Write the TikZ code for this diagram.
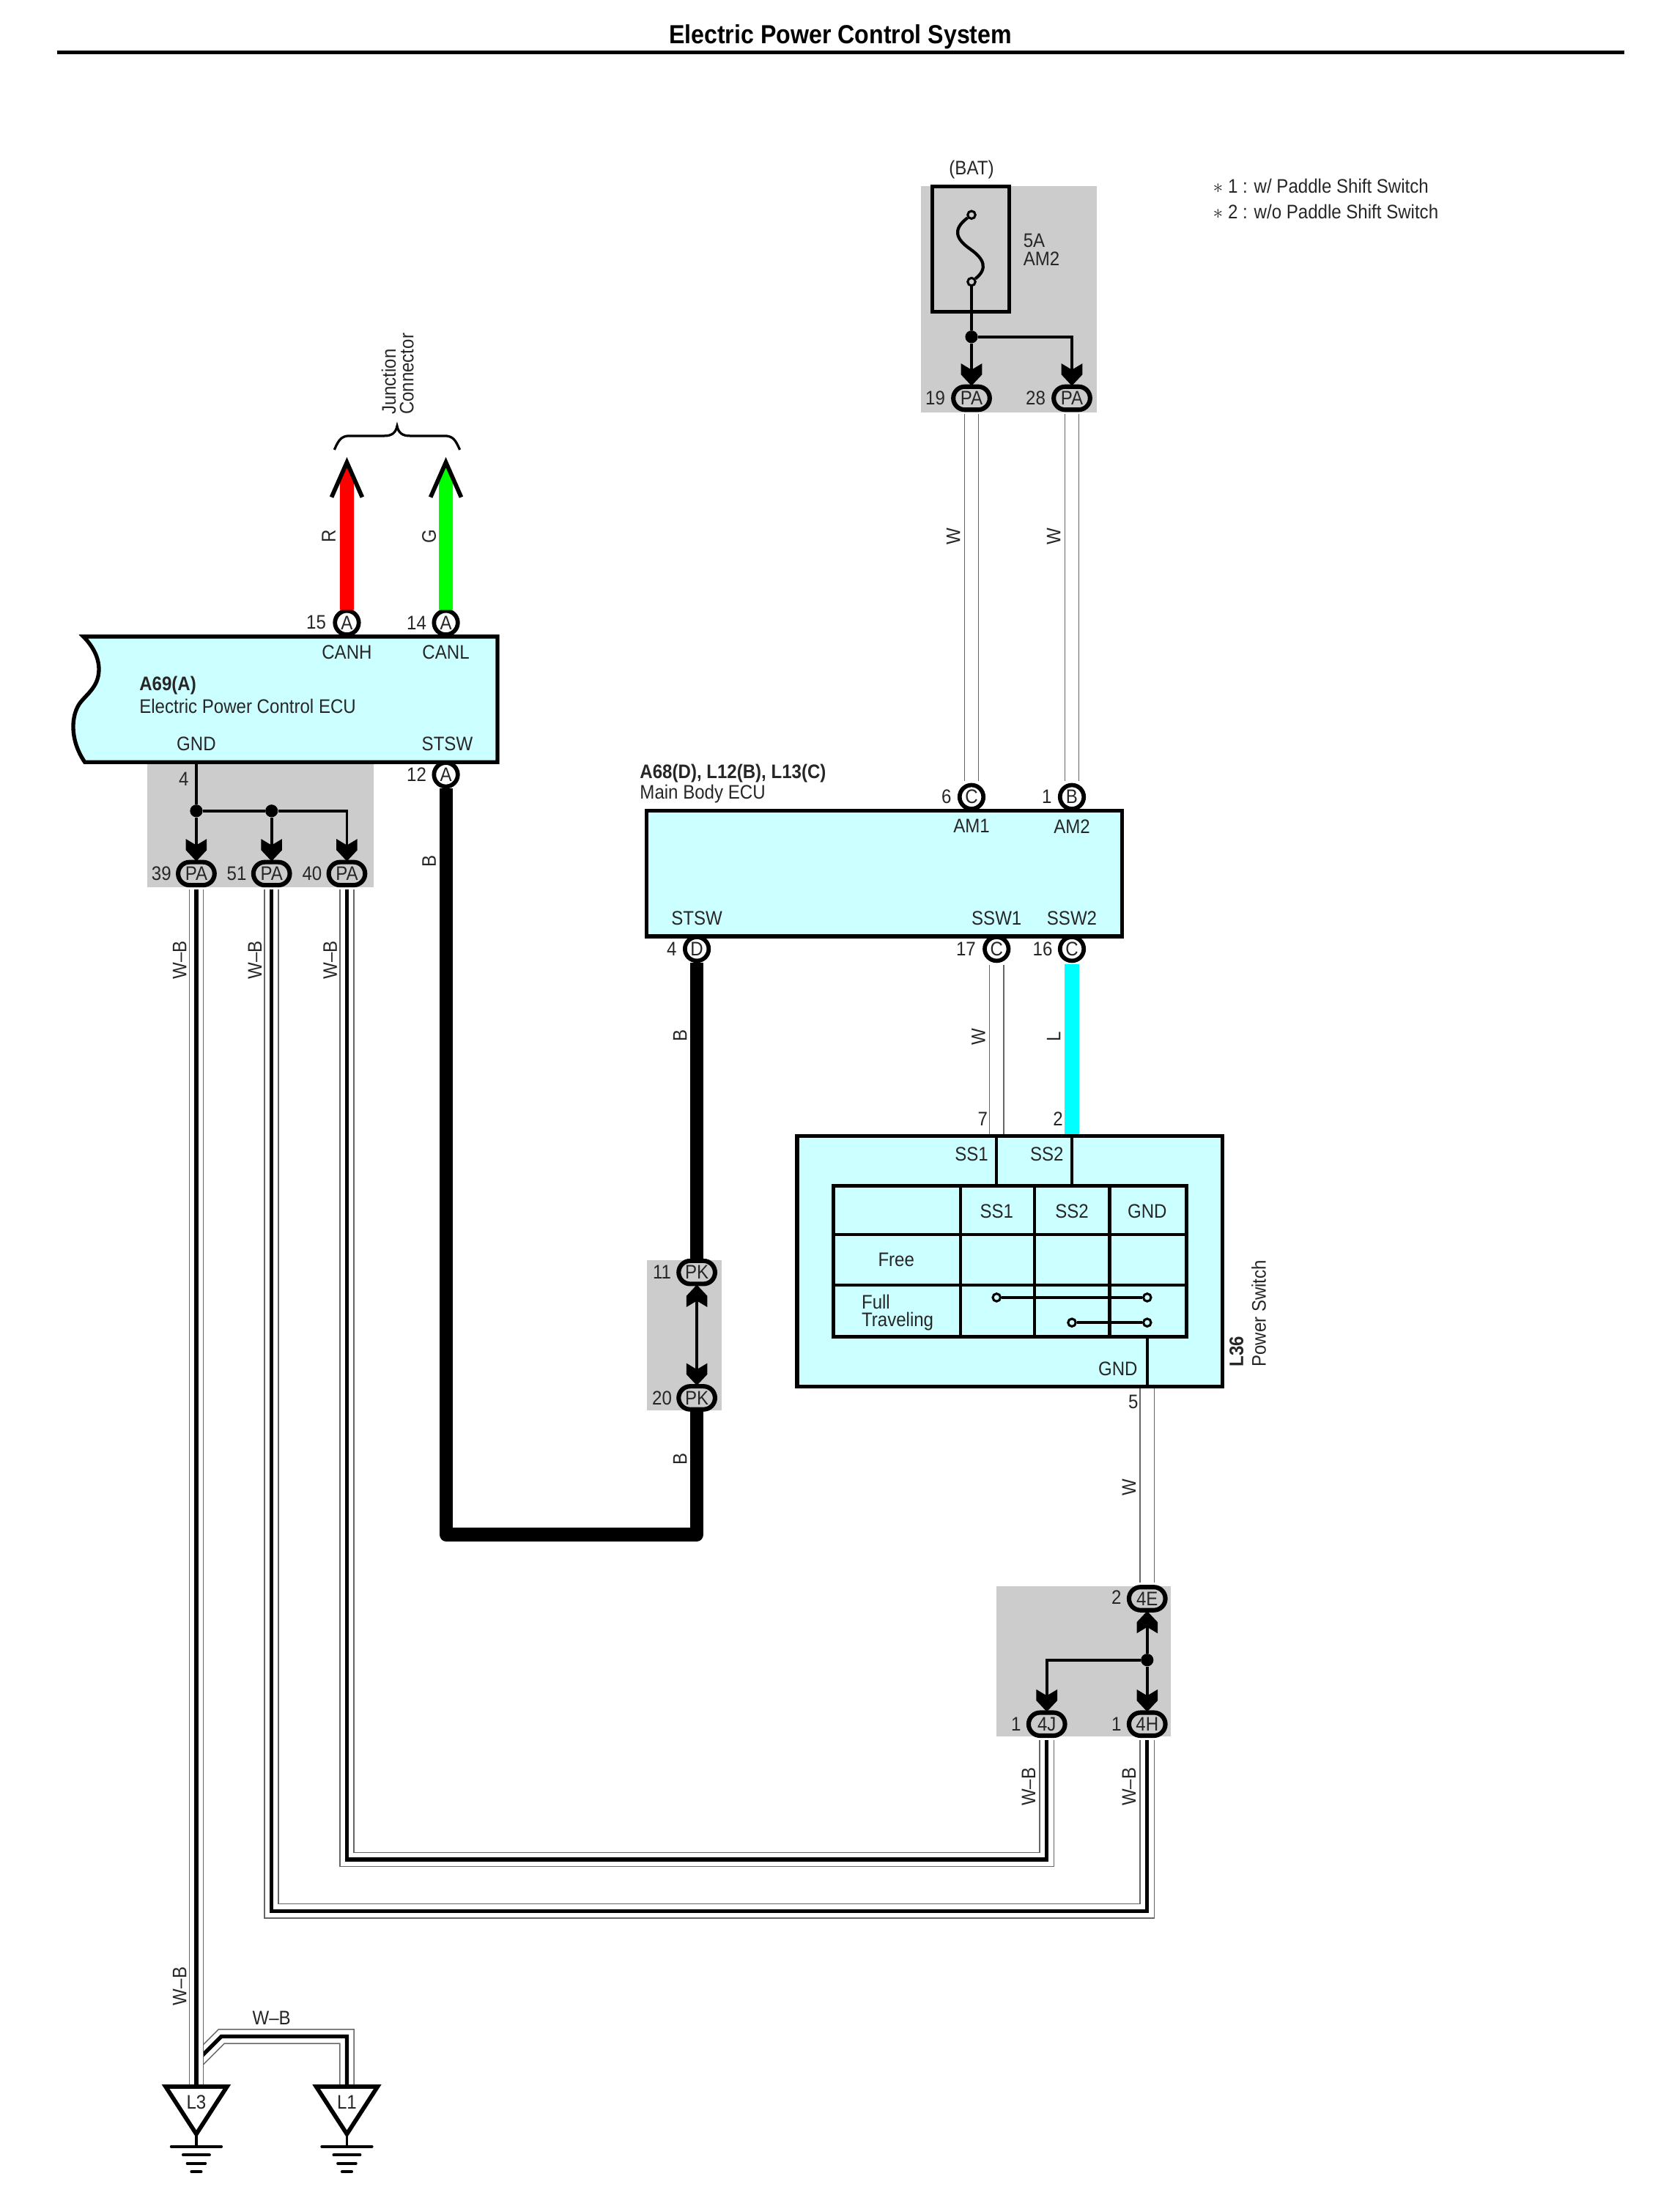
\documentclass[tikz,border=0pt]{standalone}
\usepackage{fontspec}
\setmainfont{Liberation Sans}[FakeStretch=0.9]
\usetikzlibrary{shapes.misc}
\definecolor{grp}{HTML}{CCCCCC}
\definecolor{ecu}{HTML}{CCFFFF}
\definecolor{wiregray}{HTML}{666666}
\definecolor{lblue}{HTML}{00FFFF}
\newcommand{\lf}{\fontsize{14}{15}\selectfont}
\newcommand{\tf}{\fontsize{18.7}{20}\selectfont\bfseries}
\tikzset{
  lbl/.style={font=\lf,inner sep=0pt,text=black!85},
  lft/.style={lbl,anchor=west},
  vert/.style={lbl,rotate=90},
  grpbox/.style={fill=grp,draw=none},
  box/.style={fill=ecu,draw=black,line width=2.8pt,line join=miter},
  conn/.style={rounded rectangle,draw=black,line width=3.2pt,minimum width=26pt,minimum height=16.5pt,inner sep=0pt,font=\lf,text=black!85},
  ga/.style={conn,fill=grp},
  ca/.style={circle,draw=black,line width=3pt,fill=white,minimum size=17pt,inner sep=0pt,font=\lf,text=black!85},
  jn/.style={circle,fill=black,inner sep=0pt,minimum size=9pt},
  small/.style={circle,draw=black,line width=1.6pt,fill=#1,inner sep=0pt,minimum size=5.5pt},
  thinw/.style={draw=black,line width=2pt},
  wwire/.style={draw=wiregray,double=white,double distance=9.2pt,line width=.8pt,line join=miter},
  wbwire/.style={draw=black,line width=2.8pt,line join=miter,preaction={draw=wiregray,double=white,double distance=9.2pt,line width=.8pt}},
  fat/.style={line width=9.5pt,line join=round},
  fatdown/.pic={\fill[black] (0,1)--(-7.5,-7)--(-7.5,-15)--(0,-10.5)--(7.5,-15)--(7.5,-7)--cycle;},
  fatup/.pic={\fill[black] (0,-1)--(-7.5,7)--(-7.5,15)--(0,10.5)--(7.5,15)--(7.5,7)--cycle;},
  gnd/.style={line width=2pt},
  tri/.style={draw=black,line width=3pt,fill=white,line join=miter}
}
\begin{document}
\begin{tikzpicture}[x=.9963pt,y=-.9963pt]
\useasboundingbox (-0.8,-0.6) rectangle (1203.7,1568);
% title
\node[font=\tf,inner sep=0pt] (title) at (602,26) {Electric Power Control System};
\coordinate (tl) at (40,37); \coordinate (tr) at (1164,37);
\draw[line width=2.8pt] (tl)--(tr);
% grey groups
\fill[grp] (660,133) rectangle (786,295);
\fill[grp] (105,546) rectangle (267,636);
\fill[grp] (463,903) rectangle (517,1011);
\fill[grp] (714,1137) rectangle (839,1245);
% legend
\node[lft] (leg1) at (869,133) {$*$ 1 : w/ Paddle Shift Switch};
\node[lft] (leg2) at (869,151) {$*$ 2 : w/o Paddle Shift Switch};
% fuse
\node[lbl] (bat) at (696,121) {(BAT)};
\draw[line width=2.8pt] (668,133) rectangle (723,223);
\node[small=grp] (fa) at (696,153.5) {};
\node[small=grp] (fb) at (696,201.5) {};
\draw[line width=2.2pt] (fa) .. controls (682,164) and (685,171) .. (695,178) .. controls (705,185) and (708,192) .. (fb);
\node[lft] (f5a) at (733,172) {5A};
\node[lft] (fam2) at (733,185) {AM2};
% connectors
\node[ga] (p19) at (696,285) {PA}; \node[lbl] at (670,285) {19};
\node[ga] (p28) at (768,285) {PA}; \node[lbl] at (742,285) {28};
\node[jn] (jbat) at (696,241) {};
\draw[thinw] (fb)--(jbat)--(p19.north);
\draw[thinw] (jbat)-|(p28.north);
\pic at (p19.north) {fatdown};
\pic at (p28.north) {fatdown};
% A69 ECU
\draw[box] (59,456) -- (356,456) -- (356,546) -- (60,546) .. controls (49,530) and (50,512) .. (57,503) .. controls (62,497) and (69,492) .. (70,482) .. controls (71,472) and (66,463) .. (59,456) -- cycle;
\node[ca] (a15) at (248,446) {A}; \node[lbl] at (226,446) {15};
\node[ca] (a14) at (319,446) {A}; \node[lbl] at (298,446) {14};
\node[ca] (a12) at (319,555) {A}; \node[lbl] at (298,555) {12};
\node[lbl] at (248,467) {CANH};
\node[lbl] at (319,467) {CANL};
\node[lft,font=\lf\bfseries] at (99,491) {A69(A)};
\node[lft] at (99,506) {Electric Power Control ECU};
\node[lbl] at (140,533) {GND};
\node[lbl] at (320,533) {STSW};
% CAN wires
\coordinate (rtip) at (248,331); \coordinate (gtip) at (319,331);
\fill[red] ([xshift=-5pt,yshift=-1pt]a15.north) -- ++(0,-98) -- (rtip) -- ([xshift=5pt]a15.north |- 253,342) -- ([xshift=5pt,yshift=-1pt]a15.north) -- cycle;
\fill[green] ([xshift=-5pt,yshift=-1pt]a14.north) -- ++(0,-98) -- (gtip) -- ([xshift=5pt]a14.north |- 324,342) -- ([xshift=5pt,yshift=-1pt]a14.north) -- cycle;
\draw[line width=3pt,line join=miter] (237,356) -- (rtip) -- (259,356);
\draw[line width=3pt,line join=miter] (308,356) -- (gtip) -- (330,356);
\node[vert] at (235,384) {R};
\node[vert] at (307,384) {G};
\draw[line width=1.7pt] (239,322) .. controls (242,315) and (244,312) .. (250,312) -- (275,312) .. controls (280,312) and (283,310) .. (284,305) .. controls (285,310) and (288,312) .. (293,312) -- (318,312) .. controls (324,312) and (326,315) .. (329,322);
\node[lbl,rotate=90,anchor=west] at (278,297) {Junction};
\node[lbl,rotate=90,anchor=west] at (291,297) {Connector};
% GND group
\node[ga] (p39) at (140,626) {PA}; \node[lbl] at (115,626) {39};
\node[ga] (p51) at (194,626) {PA}; \node[lbl] at (169,626) {51};
\node[ga] (p40) at (248,626) {PA}; \node[lbl] at (223,626) {40};
\coordinate (gndo) at (140,546);
\node[jn] (j1) at (140,581) {};
\node[jn] (j2) at (194,581) {};
\node[lbl] at (131,558) {4};
\draw[thinw] (gndo)--(j1)--(p39.north);
\draw[thinw] (j1)--(j2)--(p51.north);
\draw[thinw] (j2)-|(p40.north);
\pic at (p39.north) {fatdown};
\pic at (p51.north) {fatdown};
\pic at (p40.north) {fatdown};
% main body ECU
\draw[box] (463,581) rectangle (804,671);
\node[lft,font=\lf\bfseries] at (458,554) {A68(D), L12(B), L13(C)};
\node[lft] at (458,569) {Main Body ECU};
\node[ca] (c6) at (696,571) {C}; \node[lbl] at (678,571) {6};
\node[ca] (b1) at (768,571) {B}; \node[lbl] at (750,571) {1};
\node[lbl] at (696,592) {AM1};
\node[lbl] at (768,592) {AM2};
\node[lbl] at (499,658) {STSW};
\node[lbl] at (714,658) {SSW1};
\node[lbl] at (768,658) {SSW2};
\node[ca] (d4) at (499,680) {D}; \node[lbl] at (481,680) {4};
\node[ca] (c17) at (714,680) {C}; \node[lbl] at (692,680) {17};
\node[ca] (c16) at (768,680) {C}; \node[lbl] at (747,680) {16};
% W wires top
\draw[wwire] ([yshift=-1.4pt]p19.south) -- ([yshift=1.4pt]c6.north);
\draw[wwire] ([yshift=-1.4pt]p28.south) -- ([yshift=1.4pt]b1.north);
\node[vert] at (683,384) {W};
\node[vert] at (755,384) {W};
% PK
\node[ga] (k11) at (499,912) {PK}; \node[lbl] at (474,912) {11};
\node[ga] (k20) at (499,1002) {PK}; \node[lbl] at (474,1002) {20};
\draw[thinw] (k11.south)--(k20.north);
\pic at (k11.south) {fatup};
\pic at (k20.north) {fatdown};
% STSW wire
\coordinate (c1) at (319,1100); \coordinate (c2) at (499,1100);
\draw[fat] (a12.south) -- (c1) -- (c2) -- (k20.south);
\draw[line width=9.5pt] (d4.south) -- (k11.north);
\node[vert] at (307,617) {B};
\node[vert] at (487,742) {B};
\node[vert] at (487,1046) {B};
% Power switch
\coordinate (s1) at (714,814); \coordinate (s2) at (768,814);
\draw[wwire] ([yshift=-1.4pt]c17.south) -- (s1);
\draw[line width=10pt,lblue] ([yshift=-1pt]c16.south) -- (s2);
\draw[box] (571,814) rectangle (876,994);
\node[vert] at (701,743) {W};
\node[vert] at (755,743) {L};
\node[lbl] at (704,802) {7};
\node[lbl] at (758,802) {2};
\node[lbl] at (696,827) {SS1};
\node[lbl] at (750,827) {SS2};
\draw[line width=2.2pt] (s1)--(714,850);
\draw[line width=2.2pt] (s2)--(768,850);
\draw[line width=2.6pt] (597,850) rectangle (850,958);
\draw[line width=2.2pt] (688,850)--(688,958) (741,850)--(741,958) (795,850)--(795,958) (597,885)--(850,885) (597,921)--(850,921);
\node[lbl] at (714,868) {SS1};
\node[lbl] at (768,868) {SS2};
\node[lbl] at (822,868) {GND};
\node[lbl] at (642,903) {Free};
\node[lft] at (617,933) {Full};
\node[lft] at (617,947) {Traveling};
\node[small=ecu] (t1) at (714,930) {};
\node[small=ecu] (t2) at (822,930) {};
\node[small=ecu] (t3) at (768,948) {};
\node[small=ecu] (t4) at (822,948) {};
\draw[line width=1.8pt] (t1)--(t2) (t3)--(t4);
\node[lbl] at (801,981) {GND};
\coordinate (g1) at (822,958); \coordinate (g2) at (822,994);
\draw[line width=2.2pt] (g1)--(g2);
\node[lbl] at (812,1005) {5};
\node[lbl,rotate=90,anchor=west,font=\lf\bfseries] at (886,980) {L36};
\node[lbl,rotate=90,anchor=west] at (902,980) {Power Switch};
% 4E group
\node[ga] (e4) at (822,1146) {4E}; \node[lbl] at (800,1145) {2};
\node[ga] (j4) at (750,1236) {4J}; \node[lbl] at (728,1236) {1};
\node[ga] (h4) at (822,1236) {4H}; \node[lbl] at (800,1236) {1};
\node[jn] (j5) at (822,1190) {};
\draw[wwire] ([yshift=-1.4pt]g2) -- ([yshift=1.4pt]e4.north);
\node[vert] at (809,1066) {W};
\draw[thinw] (e4.south)--(j5)--(h4.north);
\draw[thinw] (j5)-|(j4.north);
\pic at (e4.south) {fatup};
\pic at (h4.north) {fatdown};
\pic at (j4.north) {fatdown};
% long W-B wires
\coordinate (b51a) at (194,1370); \coordinate (b51b) at (822,1370);
\coordinate (b40a) at (248,1333); \coordinate (b40b) at (750,1333);
\draw[wbwire] ([yshift=-1.4pt]p51.south) -- (b51a) -- (b51b) -- ([yshift=-1.4pt]h4.south);
\draw[wbwire] ([yshift=-1.4pt]p40.south) -- (b40a) -- (b40b) -- ([yshift=-1.4pt]j4.south);
\node[vert] at (128,688) {W--B};
\node[vert] at (182,688) {W--B};
\node[vert] at (236,688) {W--B};
\node[vert] at (737,1281) {W--B};
\node[vert] at (809,1281) {W--B};
\node[vert] at (128,1424) {W--B};
\node[lbl] at (194,1447) {W--B};
% grounds
\coordinate (t3top) at (140,1496); \coordinate (t1top) at (248,1496);
\coordinate (d1) at (140,1478); \coordinate (d2) at (158,1460); \coordinate (d3) at (248,1460);
\draw[wbwire] (d1) -- (d2) -- (d3) -- (t1top);
\draw[wbwire] ([yshift=-1.4pt]p39.south) -- (t3top);
\foreach \gx/\gn in {140/L3,248/L1}{
  \draw[tri] (\gx-22,1496) -- (\gx+22,1496) -- (\gx,1530) -- cycle;
  \node[lbl] at (\gx,1507) {\gn};
  \draw[gnd] (\gx,1530) -- (\gx,1539);
  \draw[gnd,line cap=round] (\gx-18,1539) -- (\gx+18,1539);
  \draw[gnd,line cap=round] (\gx-9.5,1545) -- (\gx+9.5,1545);
  \draw[gnd,line cap=round] (\gx-6.5,1551) -- (\gx+6.5,1551);
  \draw[gnd,line cap=round] (\gx-3.5,1557) -- (\gx+3.5,1557);
}
\end{tikzpicture}
\end{document}
